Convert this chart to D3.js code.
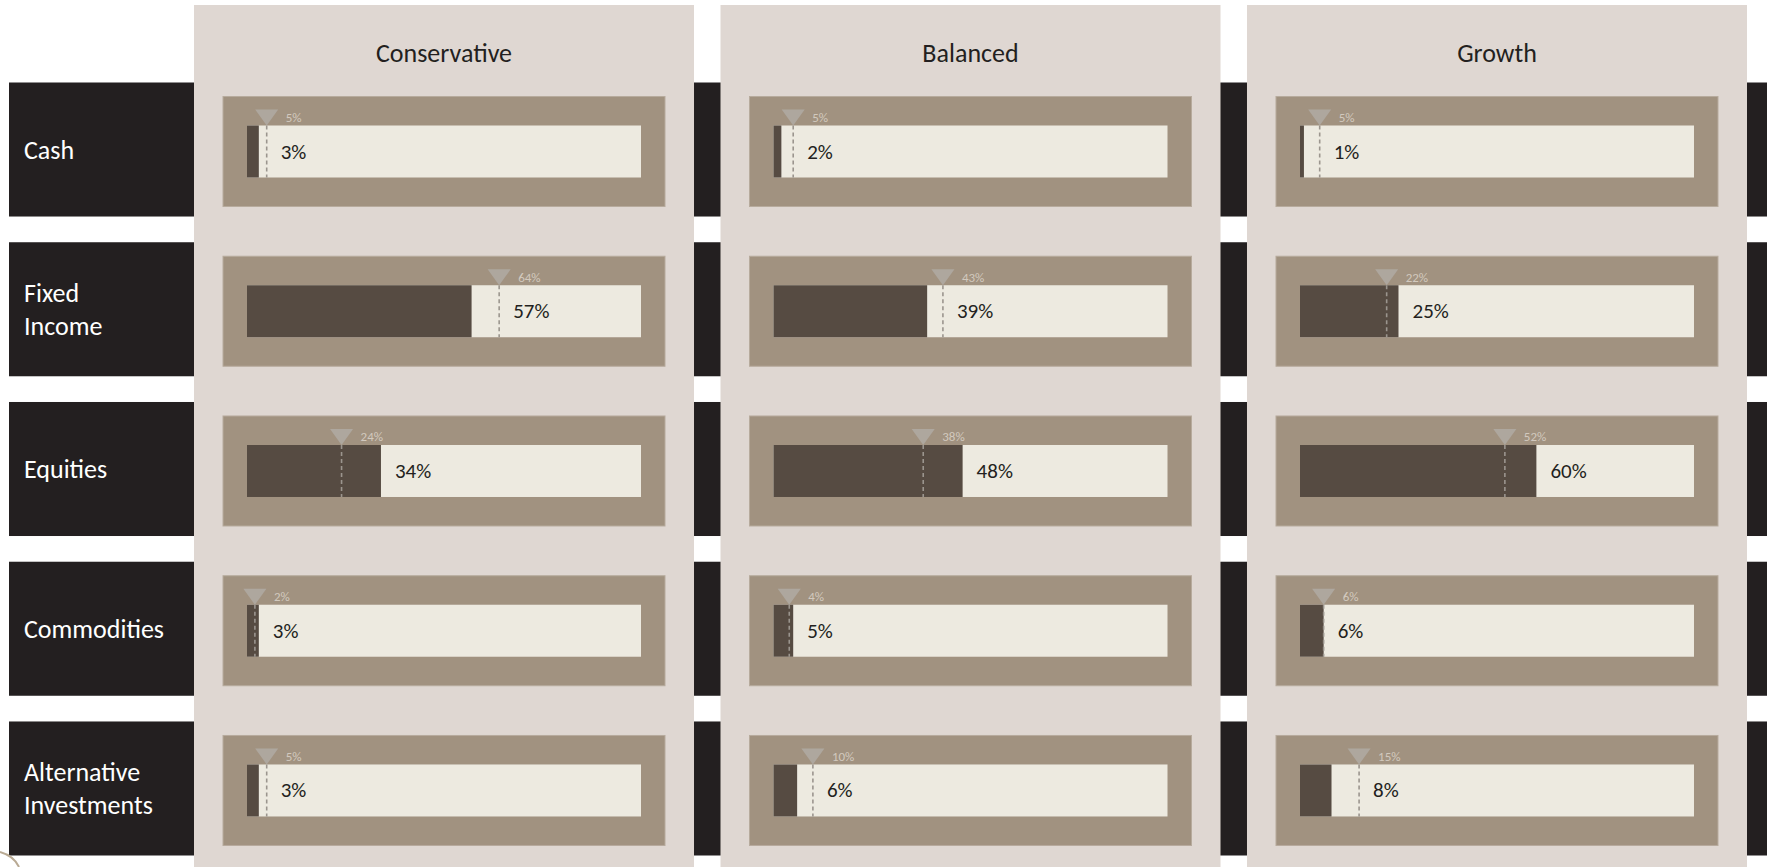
<!DOCTYPE html>
<html>
<head>
<meta charset="utf-8">
<script src="https://cdn.jsdelivr.net/npm/d3@7"></script>
<style>
  html, body { margin: 0; padding: 0; background: #ffffff; }
  svg { display: block; font-family: Carlito, Lato, "Open Sans", sans-serif; }
</style>
</head>
<body>
<svg id="chart" width="1767" height="867"></svg>
<script>
const categories = ["Cash", "Fixed Income", "Equities", "Commodities", "Alternative Investments"];
const portfolios = ["Conservative", "Balanced", "Growth"];
const actualConservative = [3, 57, 34, 3, 3];
const actualBalanced     = [2, 39, 48, 5, 6];
const actualGrowth       = [1, 25, 60, 6, 8];
const targetConservative = [5, 64, 24, 2, 5];
const targetBalanced     = [5, 43, 38, 4, 10];
const targetGrowth       = [5, 22, 52, 6, 15];
const axisDomain = [0, 100];

const actuals = [actualConservative, actualBalanced, actualGrowth];
const targets = [targetConservative, targetBalanced, targetGrowth];

const W = 1767, H = 867;
const svg = d3.select("#chart");

const C = {
  band: "#231f20", panel: "#dfd7d2", box: "#a19280", boxEdge: "#b7ab9d",
  track: "#edeae0", fill: "#564b42", tri: "#aea79e", dash: "#9b958e",
  targetText: "#d2c9be", text: "#231f20"
};

const row = d3.scaleBand().domain(categories).range([82.5, 855.5]).paddingInner(0.161);
const col = d3.scaleBand().domain(portfolios).range([194, 1747]).paddingInner(0.0503);

// dark row bands across the full width
svg.append("g").selectAll("rect").data(categories).join("rect")
  .attr("x", 9).attr("y", d => row(d))
  .attr("width", W - 9).attr("height", row.bandwidth())
  .attr("fill", C.band);

// row labels
const rl = svg.append("g").selectAll("text").data(categories).join("text")
  .attr("fill", "#ffffff").attr("font-size", 26)
  .attr("dominant-baseline", "central");
rl.each(function(d) {
  const words = d.split(" ");
  const cy = row(d) + row.bandwidth() / 2;
  const lh = 33;
  words.forEach((w, i) => {
    d3.select(this).append("tspan")
      .attr("x", 24)
      .attr("y", cy + (i - (words.length - 1) / 2) * lh)
      .text(w);
  });
});

// decorative arc bottom-left
svg.append("path")
  .attr("d", "M0,852 Q14,856 19,867")
  .attr("fill", "none").attr("stroke", "#b9aa94").attr("stroke-width", 2);

portfolios.forEach((p, pi) => {
  const px = col(p), pw = col.bandwidth();
  const g = svg.append("g");
  g.append("rect").attr("x", px).attr("y", 5).attr("width", pw).attr("height", H - 5)
    .attr("fill", C.panel);
  g.append("text").attr("x", px + pw / 2).attr("y", 53)
    .attr("text-anchor", "middle").attr("dominant-baseline", "central")
    .attr("font-size", 26).attr("fill", C.text).text(p);

  const x = d3.scaleLinear().domain(axisDomain).range([px + 53, px + 447]);
  const rows = categories.map((c, i) => ({ c, v: actuals[pi][i], t: targets[pi][i] }));

  const rg = g.selectAll("g.r").data(rows).join("g").attr("class", "r");
  const boxTop = d => row(d.c) + 14;
  const barTop = d => row(d.c) + 43;
  const barH = 52;

  rg.append("rect").attr("x", px + 29).attr("y", boxTop)
    .attr("width", x(100) - x(0) + 48).attr("height", 110)
    .attr("fill", C.box).attr("stroke", C.boxEdge).attr("stroke-width", 1);
  rg.append("rect").attr("x", x(0)).attr("y", barTop)
    .attr("width", x(100) - x(0)).attr("height", barH).attr("fill", C.track);
  rg.append("rect").attr("x", x(0)).attr("y", barTop)
    .attr("width", d => x(d.v) - x(0)).attr("height", barH).attr("fill", C.fill);
  rg.append("line")
    .attr("x1", d => x(d.t)).attr("x2", d => x(d.t))
    .attr("y1", barTop).attr("y2", d => barTop(d) + barH)
    .attr("stroke", C.dash).attr("stroke-width", 1.6).attr("stroke-dasharray", "4,3");
  rg.append("path")
    .attr("d", d => {
      const cx = x(d.t), ty = barTop(d);
      return `M${cx - 11.5},${ty - 16}L${cx + 11.5},${ty - 16}L${cx},${ty}Z`;
    })
    .attr("fill", C.tri);
  rg.append("text")
    .attr("x", d => x(d.t) + 19).attr("y", d => barTop(d) - 8)
    .attr("dominant-baseline", "central").attr("font-size", 13)
    .attr("fill", C.targetText).text(d => d.t + "%");
  rg.append("text")
    .attr("x", d => x(Math.max(d.v, d.t)) + 14).attr("y", d => barTop(d) + barH / 2)
    .attr("dominant-baseline", "central").attr("font-size", 21)
    .attr("fill", C.text).text(d => d.v + "%");
});
</script>
</body>
</html>
